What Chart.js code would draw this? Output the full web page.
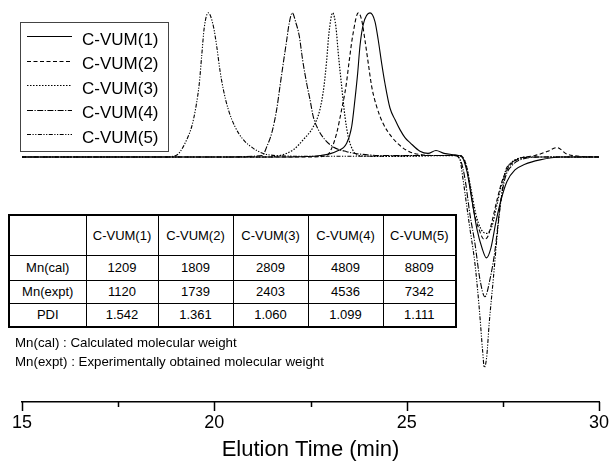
<!DOCTYPE html>
<html>
<head>
<meta charset="utf-8">
<script src="https://cdn.jsdelivr.net/npm/chart.js@4/dist/chart.umd.min.js"></script>
<style>
  html, body { margin: 0; padding: 0; background: #fff; }
  #wrap { position: relative; width: 610px; height: 464px; overflow: hidden; }
  #c { position: absolute; left: 0; top: 0; }
  #tbl { position: absolute; left: 8px; top: 214px; border-collapse: collapse; table-layout: fixed;
         font: 13px "Liberation Sans", Arial, sans-serif; color: #000; background: #fff; border: 2px solid #000; }
  #tbl td { border: 1px solid #000; text-align: center; padding: 0; white-space: nowrap; }
  .note { position: absolute; left: 15px; font: 13.3px "Liberation Sans", Arial, sans-serif; color: #000; line-height: 15px; white-space: nowrap; }
</style>
</head>
<body>
<div id="wrap">
  <canvas id="c" width="610" height="464"></canvas>
  <table id="tbl"></table>
  <div class="note" id="note1" style="top:335px"></div>
  <div class="note" id="note2" style="top:354px"></div>
</div>
<script>
// ---------- data ----------
const seriesNames = ['C-VUM(1)', 'C-VUM(2)', 'C-VUM(3)', 'C-VUM(4)', 'C-VUM(5)'];

const time1 = [15, 20, 22, 22.75, 23.18, 23.44, 23.57, 23.656, 23.726, 23.786, 23.872, 24.046, 24.176, 24.262, 24.35, 24.436, 24.566, 24.696, 24.826, 24.956, 25.086, 25.346, 25.554, 25.762, 25.97, 26.256, 26.437, 26.567, 26.697, 26.827, 26.957, 27.074, 27.191, 27.321, 27.451, 27.607, 27.815, 28.075, 28.465, 28.985, 29.5, 30];
const signal1 = [0, 0, 0, 0.01, 0.04, 0.095, 0.21, 0.40, 0.58, 0.77, 0.92, 1.0, 0.94, 0.81, 0.65, 0.51, 0.34, 0.26, 0.19, 0.135, 0.1, 0.04, 0.025, 0.045, 0.025, 0.015, 0.0, -0.1, -0.3, -0.5, -0.63, -0.70, -0.63, -0.45, -0.3, -0.17, -0.09, -0.05, -0.02, 0.0, 0.0, 0.0];

const time2 = [15, 20, 22.5, 22.92, 23.05, 23.18, 23.31, 23.422, 23.508, 23.596, 23.742, 23.83, 23.916, 24.002, 24.09, 24.22, 24.392, 24.61, 24.87, 25.086, 25.4, 25.8, 26.2, 26.385, 26.541, 26.645, 26.749, 26.879, 27.009, 27.113, 27.217, 27.347, 27.503, 27.685, 27.945, 28.335, 28.673, 28.907, 29.167, 29.505, 30];
const signal2 = [0, 0, 0, 0.01, 0.06, 0.165, 0.33, 0.49, 0.67, 0.84, 1.0, 0.95, 0.81, 0.65, 0.49, 0.35, 0.23, 0.14, 0.07, 0.035, 0.015, 0.01, 0.01, 0.01, -0.05, -0.2, -0.38, -0.5, -0.57, -0.55, -0.45, -0.3, -0.15, -0.06, -0.01, 0.01, 0.04, 0.065, 0.02, 0.005, 0];

const time3 = [15, 20, 21.4, 21.707, 22.052, 22.312, 22.572, 22.746, 22.85, 22.92, 22.98, 23.076, 23.162, 23.222, 23.31, 23.396, 23.482, 23.596, 23.742, 24.2, 25, 26, 26.385, 26.541, 26.671, 26.801, 26.931, 27.087, 27.217, 27.347, 27.477, 27.633, 27.815, 28.205, 29, 30];
const signal3 = [0, 0, 0, 0.01, 0.05, 0.12, 0.21, 0.33, 0.49, 0.67, 0.86, 1.0, 0.90, 0.72, 0.49, 0.28, 0.14, 0.05, 0.01, 0.005, 0.005, 0.01, 0.01, -0.05, -0.22, -0.4, -0.5, -0.53, -0.48, -0.33, -0.18, -0.07, -0.02, 0, 0, 0];

const time4 = [15, 20, 21.25, 21.361, 21.491, 21.621, 21.706, 21.792, 21.881, 21.948, 22.026, 22.122, 22.208, 22.297, 22.401, 22.486, 22.572, 22.702, 22.876, 23.092, 23.44, 23.786, 24.5, 25.5, 26.256, 26.411, 26.515, 26.646, 26.775, 26.905, 27.035, 27.165, 27.295, 27.425, 27.555, 27.737, 28.075, 28.595, 29.3, 30];
const signal4 = [0, 0, 0.01, 0.07, 0.165, 0.33, 0.49, 0.65, 0.81, 0.93, 1.0, 0.93, 0.84, 0.67, 0.51, 0.40, 0.28, 0.19, 0.12, 0.07, 0.037, 0.02, 0.01, 0.01, 0.01, -0.03, -0.15, -0.4, -0.6, -0.85, -0.97, -0.85, -0.65, -0.35, -0.15, -0.06, -0.01, 0, 0, 0];

const time5 = [15, 18.7, 19.0, 19.107, 19.281, 19.411, 19.523, 19.609, 19.671, 19.739, 19.843, 19.973, 20.061, 20.147, 20.233, 20.363, 20.537, 20.753, 21.013, 21.272, 21.6, 22.5, 24, 25.5, 26.256, 26.385, 26.463, 26.567, 26.646, 26.775, 26.887, 26.976, 27.017, 27.079, 27.147, 27.251, 27.365, 27.45, 27.555, 27.737, 27.945, 28.465, 29.2, 30];
const signal5 = [0, 0, 0.01, 0.035, 0.12, 0.21, 0.35, 0.51, 0.70, 0.90, 1.0, 0.91, 0.77, 0.60, 0.47, 0.33, 0.21, 0.12, 0.06, 0.025, 0.01, 0.005, 0.005, 0.01, 0.01, -0.02, -0.15, -0.35, -0.5, -0.74, -1.05, -1.35, -1.46, -1.39, -1.15, -0.85, -0.51, -0.3, -0.11, -0.04, -0.01, 0, 0, 0];

const xTickValues = [15, 17.5, 20, 22.5, 25, 27.5, 30];
const xTitle = 'Elution Time (min)';

const tableHeaders = ['C-VUM(1)', 'C-VUM(2)', 'C-VUM(3)', 'C-VUM(4)', 'C-VUM(5)'];
const rowLabels = ['Mn(cal)', 'Mn(expt)', 'PDI'];
const mnCal = ['1209', '1809', '2809', '4809', '8809'];
const mnExpt = ['1120', '1739', '2403', '4536', '7342'];
const pdi = ['1.542', '1.361', '1.060', '1.099', '1.111'];
const notes = ['Mn(cal) : Calculated molecular weight', 'Mn(expt) : Experimentally obtained molecular weight'];

// ---------- table ----------
(function buildTable() {
  const tbl = document.getElementById('tbl');
  const widths = [77, 72, 75, 75, 75, 73];
  const cg = document.createElement('colgroup');
  widths.forEach(w => { const c = document.createElement('col'); c.style.width = w + 'px'; cg.appendChild(c); });
  tbl.appendChild(cg);
  const heights = [40, 25, 23, 24];
  const rows = [[''].concat(tableHeaders), [rowLabels[0]].concat(mnCal), [rowLabels[1]].concat(mnExpt), [rowLabels[2]].concat(pdi)];
  rows.forEach((r, i) => {
    const tr = document.createElement('tr');
    tr.style.height = heights[i] + 'px';
    r.forEach(v => { const td = document.createElement('td'); td.textContent = v; tr.appendChild(td); });
    tbl.appendChild(tr);
  });
  document.getElementById('note1').textContent = notes[0];
  document.getElementById('note2').textContent = notes[1];
})();

// ---------- chart ----------
const styles = [
  { dash: [], width: 1.1 },
  { dash: [4, 2.5], width: 1.1 },
  { dash: [1.5, 1.5], width: 1.2 },
  { dash: [6, 1.5, 1.2, 1.5], width: 1.1 },
  { dash: [4, 1.5, 1.2, 1.5, 1.2, 1.5], width: 1.1 }
];
const times = [time1, time2, time3, time4, time5];
const signals = [signal1, signal2, signal3, signal4, signal5];

const datasets = seriesNames.map((name, i) => ({
  label: name,
  data: times[i].map((t, k) => ({ x: t, y: signals[i][k] })),
  borderColor: '#000',
  borderWidth: styles[i].width,
  borderDash: styles[i].dash,
  pointRadius: 0,
  fill: false,
  cubicInterpolationMode: 'monotone'
}));

const FONT = '"Liberation Sans", Arial, sans-serif';

const tickPlugin = {
  id: 'tickMarks',
  afterDraw(chart) {
    const ctx = chart.ctx, xs = chart.scales.x, y0 = chart.chartArea.bottom;
    ctx.save();
    ctx.strokeStyle = '#000';
    ctx.lineWidth = 1.5;
    xTickValues.forEach(v => {
      const px = Math.round(xs.getPixelForValue(v)) + 0.5;
      const major = (v % 5 === 0);
      ctx.beginPath();
      ctx.moveTo(px, y0);
      ctx.lineTo(px, y0 + (major ? 9 : 5));
      ctx.stroke();
    });
    ctx.restore();
  }
};

const legendPlugin = {
  id: 'boxLegend',
  afterDraw(chart) {
    const ctx = chart.ctx;
    ctx.save();
    ctx.fillStyle = '#fff';
    ctx.fillRect(20.5, 22.5, 148, 129);
    ctx.strokeStyle = '#444';
    ctx.lineWidth = 1;
    ctx.setLineDash([]);
    ctx.strokeRect(20.5, 22.5, 148, 129);
    chart.data.datasets.forEach((ds, i) => {
      const y = 40 + i * 24.5;
      ctx.beginPath();
      ctx.setLineDash(ds.borderDash);
      ctx.strokeStyle = ds.borderColor;
      ctx.lineWidth = ds.borderWidth;
      ctx.moveTo(27, Math.round(y - 4) + 0.5);
      ctx.lineTo(72, Math.round(y - 4) + 0.5);
      ctx.stroke();
      ctx.setLineDash([]);
      ctx.fillStyle = '#000';
      ctx.font = '17px ' + FONT;
      ctx.textBaseline = 'middle';
      ctx.textAlign = 'left';
      ctx.fillText(ds.label, 82, y);
    });
    ctx.restore();
  }
};

new Chart(document.getElementById('c'), {
  type: 'line',
  data: { datasets },
  options: {
    responsive: false,
    devicePixelRatio: 1,
    animation: false,
    events: [],
    layout: { padding: { left: 22, right: 11, top: 10, bottom: 0 } },
    plugins: { legend: { display: false }, tooltip: { enabled: false } },
    scales: {
      x: {
        type: 'linear',
        min: 15, max: 30,
        position: 'bottom',
        grid: { display: false },
        border: { display: true, color: '#000', width: 1.5 },
        ticks: {
          stepSize: 5,
          autoSkip: false,
          maxRotation: 0,
          padding: 2,
          color: '#000',
          font: { family: FONT, size: 18 }
        },
        title: {
          display: true,
          text: xTitle,
          color: '#000',
          font: { family: FONT, size: 22 },
          padding: { top: 0, bottom: 1 }
        },
        afterFit(scale) {
          scale.height = 62;
          scale.paddingLeft = 0;
          scale.paddingRight = 0;
        }
      },
      y: {
        type: 'linear',
        display: false,
        min: -1.70, max: 1.02
      }
    }
  },
  plugins: [tickPlugin, legendPlugin]
});
</script>
</body>
</html>
